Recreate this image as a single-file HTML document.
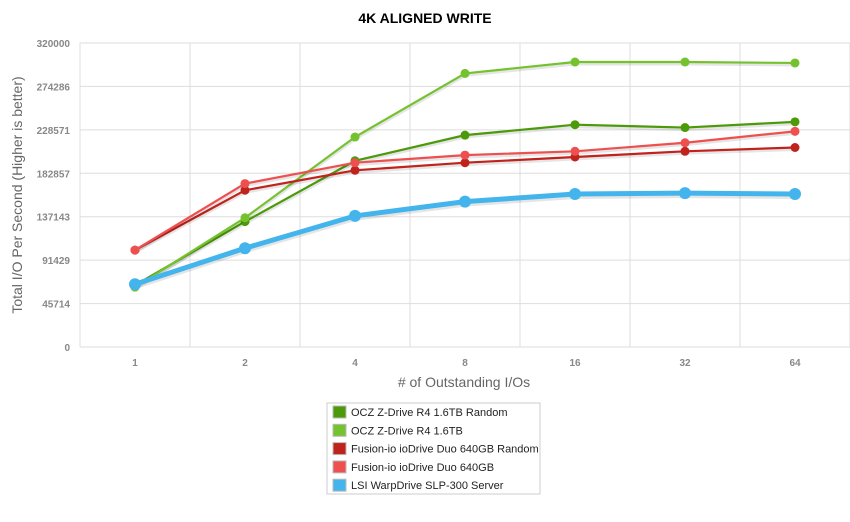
<!DOCTYPE html>
<html><head><meta charset="utf-8"><style>
body{margin:0;background:#fff;font-family:"Liberation Sans",sans-serif}
svg text{font-family:"Liberation Sans",sans-serif}
</style></head><body>
<svg id="c" width="850" height="517">
<text x="425" y="23" text-anchor="middle" font-size="14" font-weight="bold" fill="#000">4K ALIGNED WRITE</text>
<g id="grid"></g><g id="axes"></g><g id="series"></g>
<text transform="translate(22,195) rotate(-90)" text-anchor="middle" font-size="14" fill="#666">Total I/O Per Second (Higher is better)</text>
<text x="464" y="387" text-anchor="middle" font-size="14" fill="#666"># of Outstanding I/Os</text>
<rect x="327" y="403" width="213" height="91" fill="#fff" stroke="#ccc"/>
<g id="legend"></g>
</svg>
<script>
const categories=["1","2","4","8","16","32","64"];
const yTicks=[0,45714,91429,137143,182857,228571,274286,320000];
const seriesNames=["OCZ Z-Drive R4 1.6TB Random","OCZ Z-Drive R4 1.6TB","Fusion-io ioDrive Duo 640GB Random","Fusion-io ioDrive Duo 640GB","LSI WarpDrive SLP-300 Server"];
const seriesColors=["#4a9a0a","#74c22e","#c0231c","#ee5050","#44b4ec"];
const oczRandom=[65000,132000,196000,223000,234000,231000,237000];
const ocz=[63000,136000,221000,288000,300000,300000,299000];
const fusionRandom=[102000,165000,186000,194000,200000,206000,210000];
const fusion=[102000,172000,194000,202000,206000,215000,227000];
const lsi=[66000,104000,138000,153000,161000,162000,161000];
const allSeries=[oczRandom,ocz,fusionRandom,fusion,lsi];
const NS="http://www.w3.org/2000/svg";
const L=80,R=850,T=43,B=347,yMax=320000;
const bw=(R-L)/categories.length;
const x=i=>L+bw*(i+0.5);
const y=v=>B-(v/yMax)*(B-T);
function mk(tag,attrs,parent){const e=document.createElementNS(NS,tag);for(const k in attrs)e.setAttribute(k,attrs[k]);document.getElementById(parent).appendChild(e);return e;}
yTicks.forEach(t=>{
 const g=mk("line",{x1:L,x2:R,y1:y(t),y2:y(t),stroke:"#ddd"},"grid");
 
 
 const tx=mk("text",{x:L-10,y:y(t)+4,"text-anchor":"end","font-size":"10",fill:"#888","font-weight":"bold"},"axes");
 tx.textContent=t;
 
 
});
for(let i=0;i<=categories.length;i++){
 const g=mk("line",{x1:L+bw*i,x2:L+bw*i,y1:T,y2:B,stroke:"#ddd"},"grid");
 
 
}
categories.forEach((c,i)=>{
 const tx=mk("text",{x:x(i),y:B+19,"text-anchor":"middle","font-size":"10",fill:"#888","font-weight":"bold"},"axes");
 tx.textContent=c;
 
 
});
allSeries.forEach((s,si)=>{
 const thick=si===4;
 const pts=s.map((v,i)=>x(i)+","+y(v)).join(" ");
 const sh=mk("polyline",{points:s.map((v,i)=>x(i)+","+(y(v)+2)).join(" "),fill:"none",stroke:"rgba(0,0,0,0.1)","stroke-width":thick?6:3},"series");
 
 
 const pl=mk("polyline",{points:pts,fill:"none",stroke:seriesColors[si],"stroke-width":thick?5:2.2},"series");
 
 
 s.forEach((v,i)=>{
  const p=mk("circle",{cx:x(i),cy:y(v),r:thick?6:4.5,fill:seriesColors[si]},"series");
  
  
 });
 const ly=412+si*18.3;
 const sw=mk("rect",{x:333,y:ly-6,width:13,height:12,fill:seriesColors[si],stroke:"#bbb"},"legend");
 
 
 const lt=mk("text",{x:351,y:ly+4,"font-size":"11",fill:"#222"},"legend");
 lt.textContent=seriesNames[si];
 
 
});
</script>
</body></html>
